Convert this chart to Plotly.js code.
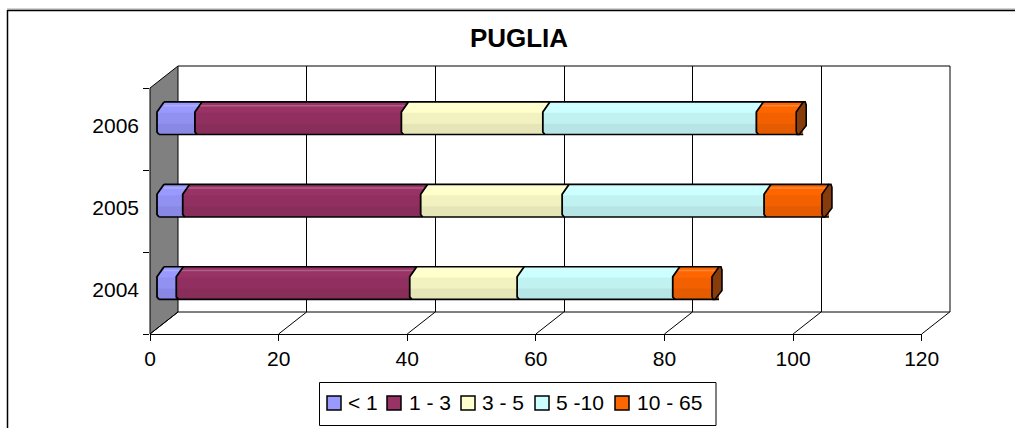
<!DOCTYPE html>
<html><head><meta charset="utf-8">
<script src="https://cdn.plot.ly/plotly-3.0.1.min.js"></script>
<style>html,body{margin:0;padding:0;background:#fff}#c{width:1015px;height:428px}</style>
</head><body><div id="c"></div>
<script>
const years = ['2004','2005','2006'];
const seriesNames = ['< 1','1 - 3','3 - 5','5 -10','10 - 65'];
const lt1    = [3.0, 4.0, 5.9];
const s1to3  = [36.3, 37.0, 32.1];
const s3to5  = [16.7, 22.0, 22.0];
const s5to10 = [24.2, 31.4, 33.2];
const s10to65= [6.1, 9.0, 6.2];
const seriesValues = [lt1, s1to3, s3to5, s5to10, s10to65];
const colors = ['#9999FF','#993366','#FFFFCC','#CCFFFF','#FF6600'];
const xTicks = [0,20,40,60,80,100,120];

const W=1015,H=428;
const px=v=>v/W, py=v=>1-v/H;
const FONT='"Liberation Sans", Arial, sans-serif';
const TS=21;

const traces=[];
traces.push({type:'scatter',x:[0,120],y:years.slice(0,2),xaxis:'x',yaxis:'y',mode:'markers',marker:{opacity:0},hoverinfo:'skip',showlegend:false});
traces.push({type:'scatter',x:[0,120],y:[0,1],xaxis:'x2',yaxis:'y2',mode:'markers',marker:{opacity:0},hoverinfo:'skip',showlegend:false});
seriesNames.forEach((n,i)=>traces.push({type:'bar',orientation:'h',name:n,y:years,x:seriesValues[i],
  xaxis:'x3',yaxis:'y3',marker:{color:colors[i],line:{width:0}},showlegend:false,hoverinfo:'x+name'}));

const shapes=[];
const LINE='#000';
shapes.push({type:'line',xref:'paper',yref:'paper',x0:px(7),x1:px(1015),y0:py(9),y1:py(9),line:{color:'#a8a8a8',width:1},layer:'below'});
shapes.push({type:'line',xref:'paper',yref:'paper',x0:px(7.5),x1:px(1015),y0:py(10.5),y1:py(10.5),line:{color:'#000',width:1.5},layer:'below'});
shapes.push({type:'line',xref:'paper',yref:'paper',x0:px(7.5),x1:px(7.5),y0:py(10),y1:py(428),line:{color:'#000',width:1.5},layer:'below'});
shapes.push({type:'path',xref:'paper',yref:'paper',layer:'below',
  path:`M${px(150)},${py(88)}L${px(178)},${py(66)}L${px(178)},${py(312)}L${px(150)},${py(334)}Z`,
  fillcolor:'#808080',line:{color:'#000',width:1}});
const seg=(a,b,c,d)=>shapes.push({type:'line',xref:'paper',yref:'paper',layer:'below',x0:px(a),y0:py(b),x1:px(c),y1:py(d),line:{color:'#000',width:1}});
seg(178,66,950,66); seg(950,66,950,312); seg(178,312,950,312);
const k=(921.7-150)/120;
xTicks.forEach(t=>seg(150+k*t,334,178+k*t,312));

// y offsets in pixel shapes grow upward; x offsets are relative to the bar's end on the stacked axis
const HT=16.3, HB=-16.3;
function anchored(xv,row,path,fill,lineSpec){
  return {type:'path',xref:'x3',yref:'y3',xsizemode:'pixel',ysizemode:'pixel',xanchor:xv,yanchor:row,path:path,
    fillcolor:fill||'rgba(0,0,0,0)',line:lineSpec||{width:0},layer:'above'};
}
const leftHex=`M1,${HT} L0,${HT} L-7,${HT-10} L-7,${HB+2.5} L-5,${HB} L1,${HB} Z`;
const leftStroke=`M0,${HT} L-7,${HT-10} L-7,${HB+2.5} L-5,${HB}`;
years.forEach((cat,r)=>{
  let cum=0;const starts=[];
  seriesValues.forEach((s)=>{starts.push(cum);cum+=s[r];});
  const total=cum;
  starts.forEach((st,i)=>shapes.push(anchored(st,r,leftHex,colors[i])));
  const backOff=-7/k;
  const band=(y0,y1,c)=>shapes.push({type:'rect',xref:'x3',yref:'y3',ysizemode:'pixel',yanchor:r,x0:backOff,x1:total,y0:y0,y1:y1,fillcolor:c,line:{width:0},layer:'above'});
  band(-5.5,5.5,'rgba(0,0,0,0.05)');
  band(HB,-5.5,'rgba(0,0,0,0.10)');
  shapes.push({type:'rect',xref:'x3',yref:'y3',ysizemode:'pixel',yanchor:r,x0:0,x1:total,y0:HT-4.5,y1:HT-3,fillcolor:'rgba(255,255,255,0.22)',line:{width:0},layer:'above'});
  shapes.push({type:'line',xref:'x3',yref:'y3',ysizemode:'pixel',yanchor:r,x0:0,x1:total,y0:HT,y1:HT,line:{color:LINE,width:1.6},layer:'above'});
  shapes.push({type:'line',xref:'x3',yref:'y3',ysizemode:'pixel',yanchor:r,x0:backOff*0.7,x1:total,y0:HB,y1:HB,line:{color:LINE,width:1.6},layer:'above'});
  starts.forEach(st=>shapes.push(anchored(st,r,leftStroke,null,{color:LINE,width:1.8})));
  shapes.push(anchored(total,r,`M-7,${HT-10} L0,${HT} L2,${HT} L3,${HT-3} L3,${HB+9} L-4,${HB} L-6,${HB} L-7,${HB+3} Z`,'#863D0B',{color:LINE,width:1.6}));
});

const annotations=[];
shapes.push({type:'rect',xref:'paper',yref:'paper',x0:px(319.5),x1:px(716),y0:py(382.5),y1:py(425.5),fillcolor:'#fff',line:{color:'#000',width:1},layer:'above'});
const swatchX=[327,387,461,535,615];
const textX=[348,409,482,556,637];
seriesNames.forEach((n,i)=>{
  shapes.push({type:'rect',xref:'paper',yref:'paper',x0:px(swatchX[i]),x1:px(swatchX[i]+14),y0:py(396),y1:py(410),fillcolor:colors[i],line:{color:'#000',width:1.5},layer:'above'});
  annotations.push({xref:'paper',yref:'paper',x:px(textX[i]),y:py(402),xanchor:'left',yanchor:'middle',text:n,showarrow:false,font:{family:FONT,size:TS,color:'#000'},xshift:-2});
});

const layout={
  width:W,height:H,autosize:false,margin:{l:0,r:0,t:0,b:0},paper_bgcolor:'#fff',plot_bgcolor:'rgba(0,0,0,0)',
  showlegend:false,barmode:'stack',bargap:0.6,
  title:{text:'<b>PUGLIA</b>',font:{family:FONT,size:26,color:'#000'},x:519/W,xanchor:'center',xref:'paper',y:py(38),yanchor:'middle',yref:'paper'},
  xaxis:{domain:[px(150),px(921.7)],range:[0,120],anchor:'y',tickvals:xTicks,ticks:'outside',ticklen:6,tickcolor:'#000',showline:true,linecolor:'#000',linewidth:1,showgrid:false,zeroline:false,tickfont:{family:FONT,size:TS,color:'#000'}},
  yaxis:{domain:[py(334),py(88)],type:'category',categoryorder:'array',categoryarray:years,range:[-0.5,2.5],anchor:'x',tickson:'boundaries',ticks:'outside',ticklen:6,tickcolor:'#000',showline:false,showgrid:false,zeroline:false,tickfont:{family:FONT,size:TS,color:'#000'},ticklabelshift:-3,ticklabelstandoff:10,tickvals:years,ticktext:years},
  xaxis2:{domain:[px(178),px(950)],range:[0,120],anchor:'y2',tickvals:xTicks,showticklabels:false,ticks:'',showgrid:true,gridcolor:'#000',gridwidth:1,zeroline:false,showline:false},
  yaxis2:{domain:[py(312),py(66)],range:[0,1],anchor:'x2',showticklabels:false,ticks:'',showgrid:false,zeroline:false,showline:false},
  xaxis3:{domain:[px(164-2*k),px(164+k*120)],range:[-2,120],anchor:'y3',visible:false,fixedrange:true},
  yaxis3:{domain:[py(324.3),py(77)],type:'category',categoryorder:'array',categoryarray:years,range:[-0.5,2.5],anchor:'x3',visible:false,fixedrange:true},
  shapes,annotations
};
Plotly.newPlot('c',traces,layout,{displayModeBar:false,staticPlot:true});
</script></body></html>
